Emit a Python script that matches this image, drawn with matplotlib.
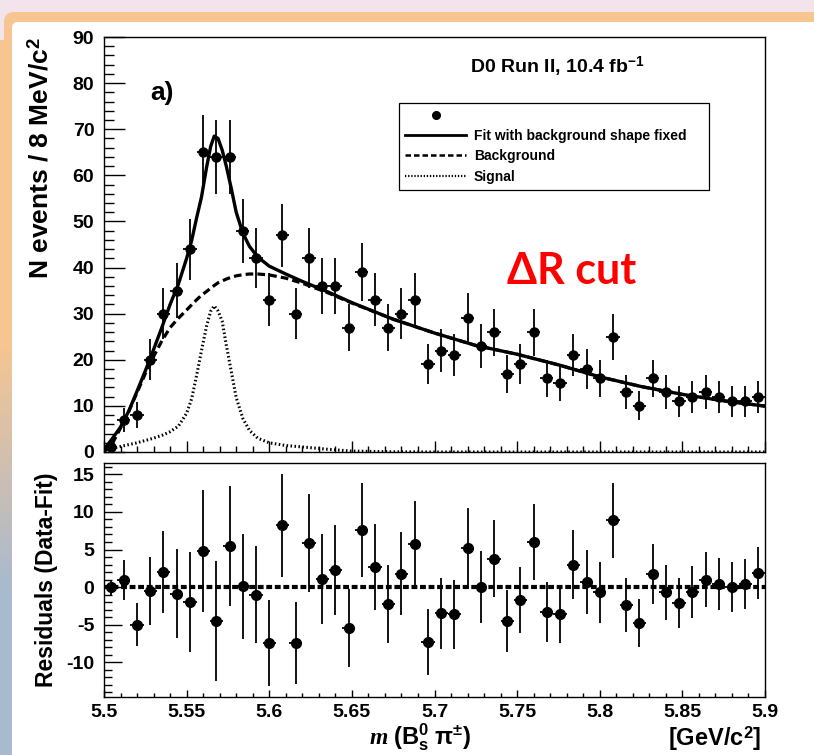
import numpy as np
import matplotlib
matplotlib.use("Agg")
import matplotlib.pyplot as plt
from matplotlib.lines import Line2D
from matplotlib.patches import Rectangle, FancyBboxPatch
from matplotlib.ticker import MultipleLocator, FuncFormatter

plt.rcParams.update({
    "font.family": ["Liberation Sans", "DejaVu Sans"],
    "font.weight": "bold",
    "axes.unicode_minus": False,
    "mathtext.fontset": "custom",
    "mathtext.rm": "Liberation Sans:bold",
    "mathtext.it": "Liberation Serif:italic:bold",
    "mathtext.bf": "Liberation Sans:bold",
    "mathtext.sf": "Liberation Sans:bold",
})

# ---------------- data ----------------
bin_centers = [5.504, 5.512, 5.520, 5.528, 5.536, 5.544, 5.552, 5.560, 5.568, 5.576,
               5.584, 5.592, 5.600, 5.608, 5.616, 5.624, 5.632, 5.640, 5.648, 5.656,
               5.664, 5.672, 5.680, 5.688, 5.696, 5.704, 5.712, 5.720, 5.728, 5.736,
               5.744, 5.752, 5.760, 5.768, 5.776, 5.784, 5.792, 5.800, 5.808, 5.816,
               5.824, 5.832, 5.840, 5.848, 5.856, 5.864, 5.872, 5.880, 5.888, 5.896]
counts = [1, 7, 8, 20, 30, 35, 44, 65, 64, 64,
          48, 42, 33, 47, 30, 42, 36, 36, 27, 39,
          33, 27, 30, 33, 19, 22, 21, 29, 23, 26,
          17, 19, 26, 16, 15, 21, 18, 16, 25, 13,
          10, 16, 13, 11, 12, 13, 12, 11, 11, 12]
residuals = [0.0, 1.0, -5.0, -0.5, 2.0, -0.9, -2.0, 4.8, -4.5, 5.5,
             0.1, -1.0, -7.4, 8.2, -7.4, 5.9, 1.1, 2.3, -5.4, 7.6,
             2.7, -2.2, 1.8, 5.7, -7.3, -3.5, -3.6, 5.2, 0.0, 3.8,
             -4.5, -1.7, 6.0, -3.3, -3.6, 3.0, 0.7, -0.7, 8.9, -2.4,
             -4.8, 1.8, -0.7, -2.1, -0.6, 1.0, 0.4, 0.0, 0.4, 1.9]
bin_half_width = 0.004

curve_mass = [5.500, 5.505, 5.510, 5.515, 5.520, 5.525, 5.530, 5.535, 5.540, 5.545,
              5.550, 5.553, 5.556, 5.559, 5.562, 5.5645, 5.5667, 5.569, 5.5715, 5.574,
              5.577, 5.580, 5.584, 5.588, 5.593, 5.600, 5.610, 5.620, 5.635, 5.650,
              5.675, 5.700, 5.725, 5.750, 5.775, 5.800, 5.825, 5.850, 5.875, 5.900]
fit_curve = [0.5, 2.9, 5.4, 8.9, 13.2, 17.6, 22.2, 27.0, 32.0, 36.4,
             42.0, 45.8, 50.7, 55.3, 61.6, 66.2, 68.5, 68.0, 65.5, 62.0,
             57.2, 52.0, 47.5, 44.6, 42.3, 40.3, 38.6, 37.0, 34.8, 32.4,
             28.8, 25.8, 23.1, 21.2, 18.9, 16.3, 14.2, 12.5, 11.1, 9.95]
bkg_curve = [0.0, 1.8, 5.2, 8.8, 12.9, 17.0, 20.7, 24.1, 27.0, 29.0,
             30.8, 31.9, 33.0, 34.0, 34.8, 35.5, 36.1, 36.7, 37.1, 37.5,
             37.9, 38.2, 38.45, 38.6, 38.6, 38.4, 37.7, 36.6, 34.6, 32.3,
             28.8, 25.8, 23.1, 21.2, 18.9, 16.3, 14.2, 12.5, 11.1, 9.95]
sig_curve = [0.5, 0.8, 1.2, 1.6, 2.0, 2.5, 3.0, 3.6, 4.4, 5.6,
             8.4, 11.5, 16.5, 22.0, 27.2, 30.5, 31.7, 30.6, 28.4, 23.2,
             17.5, 11.8, 7.3, 4.7, 3.0, 2.0, 1.4, 1.1, 0.6, 0.2,
             0.05, 0.0, 0.0, 0.0, 0.0, 0.0, 0.0, 0.0, 0.0, 0.0]

legend_labels = ["Fit with background shape fixed", "Background", "Signal"]

# ---------------- figure ----------------
W, H = 814, 755
fig = plt.figure(figsize=(W / 100, H / 100), dpi=100)
fig.patch.set_facecolor("white")

# slide-like background
bg = fig.add_axes([0, 0, 1, 1], zorder=-10)
bg.set_xlim(0, W)
bg.set_ylim(H, 0)
bg.axis("off")
bg.add_patch(Rectangle((0, 0), W, H, fc="#f3e4eb", ec="none"))
bg.add_patch(FancyBboxPatch((4, 12), W + 40, H + 40, boxstyle="round,pad=0,rounding_size=10",
                            fc="#f6c592", ec="none"))
ny = 300
ramp = np.clip((np.linspace(12, H, ny) - 330) / 250.0, 0, 1)[:, None]
c_top = np.array([0.965, 0.773, 0.573])
c_bot = np.array([0.66, 0.73, 0.81])
strip = (c_top[None, None, :] * (1 - ramp[:, :, None]) + c_bot[None, None, :] * ramp[:, :, None])
strip = np.repeat(strip, 2, axis=1)
bg.imshow(strip, extent=(0, 12, H, 40), aspect="auto", interpolation="bilinear", zorder=1)
bg.add_patch(FancyBboxPatch((12, 22), W + 40, H + 40, boxstyle="round,pad=0,rounding_size=6",
                            fc="white", ec="none", zorder=2))
bg.set_xlim(0, W)
bg.set_ylim(H, 0)


def fax(l, t, r, b):
    return [l / W, 1 - b / H, (r - l) / W, (b - t) / H]


ax1 = fig.add_axes(fax(104, 37, 765, 452))
ax2 = fig.add_axes(fax(104, 463, 765, 697))

gfmt = FuncFormatter(lambda v, p: f"{v:g}")

# ---------- top panel ----------
ax1.plot(curve_mass, sig_curve, color="black", lw=2.2, linestyle=(0, (0.5, 0.8)),
         dash_capstyle="butt", zorder=2)
ax1.plot(curve_mass, bkg_curve, color="black", lw=2.3, linestyle=(0, (2.4, 1.3)), zorder=2)
ax1.plot(curve_mass, fit_curve, color="black", lw=2.4, solid_joinstyle="round", zorder=2)
ax1.errorbar(bin_centers, counts, yerr=np.sqrt(counts), xerr=bin_half_width, fmt="o",
             color="black", ms=6.5, elinewidth=1.3, capsize=0, zorder=3)

ax1.set_xlim(5.5, 5.9)
ax1.set_ylim(0, 90)
ax1.xaxis.set_major_locator(MultipleLocator(0.05))
ax1.xaxis.set_minor_locator(MultipleLocator(0.01))
ax1.yaxis.set_major_locator(MultipleLocator(10))
ax1.yaxis.set_minor_locator(MultipleLocator(2))
ax1.yaxis.set_major_formatter(gfmt)
ax1.tick_params(axis="both", which="both", direction="in", top=False, right=False,
                labelbottom=False, colors="black")
ax1.tick_params(axis="y", which="major", length=15, width=1, labelsize=14, pad=7)
ax1.tick_params(axis="y", which="minor", length=7, width=1)
ax1.tick_params(axis="x", which="major", length=8, width=1)
ax1.tick_params(axis="x", which="minor", length=4, width=1)
ax1.set_ylabel("N events / 8 MeV/c$^{2}$", fontsize=19, fontweight="bold", loc="top")
ax1.yaxis.set_label_coords(-0.077, 1.0)

ax1.text(0.088, 0.866, "a)", transform=ax1.transAxes, fontsize=19, fontweight="bold",
         ha="center", va="center")
ax1.text(0.686, 0.928, "D0 Run II, 10.4 fb$^{-1}$", transform=ax1.transAxes, fontsize=14,
         fontweight="bold", ha="center", va="center")
ax1.text(0.707, 0.436, "ΔR cut", transform=ax1.transAxes, fontsize=31, fontweight="bold",
         color="#ff0000", ha="center", va="center", family=["Lato", "DejaVu Sans"])

handles = [Line2D([], [], marker="o", color="black", ls="none", ms=5.5),
           Line2D([], [], color="black", lw=2.0),
           Line2D([], [], color="black", lw=1.8, linestyle=(0, (2.2, 1.2))),
           Line2D([], [], color="black", lw=1.6, linestyle=(0, (0.6, 0.8)))]
leg = ax1.legend(handles, [" "] + legend_labels, loc="upper left",
                 bbox_to_anchor=(0.446, 0.842, 0.47, 0.0), mode="expand", borderaxespad=0,
                 handlelength=4.4, handletextpad=0.55, borderpad=0.45,
                 labelspacing=0.45, fancybox=False, framealpha=1, edgecolor="black",
                 prop={"weight": "bold", "size": 10})
leg.get_frame().set_linewidth(0.9)

# ---------- residual panel ----------
ax2.axhline(0, color="black", lw=3.0, linestyle=(0, (1.4, 0.65)), zorder=2)
ax2.errorbar(bin_centers, residuals, yerr=np.sqrt(counts), xerr=bin_half_width, fmt="o",
             color="black", ms=7, elinewidth=1.3, capsize=0, zorder=3)
ax2.set_xlim(5.5, 5.9)
ax2.set_ylim(-14.6, 16.5)
ax2.xaxis.set_major_locator(MultipleLocator(0.05))
ax2.xaxis.set_minor_locator(MultipleLocator(0.01))
ax2.yaxis.set_major_locator(MultipleLocator(5))
ax2.yaxis.set_minor_locator(MultipleLocator(1))
ax2.xaxis.set_major_formatter(gfmt)
ax2.yaxis.set_major_formatter(gfmt)
ax2.tick_params(axis="both", which="both", direction="in", top=False, right=False,
                colors="black")
ax2.tick_params(axis="y", which="major", length=13, width=1, labelsize=14, pad=7)
ax2.tick_params(axis="y", which="minor", length=6, width=1)
ax2.tick_params(axis="x", which="major", length=5, width=1, labelsize=14, pad=5)
ax2.tick_params(axis="x", which="minor", length=3, width=1)
ax2.set_ylabel("Residuals (Data-Fit)", fontsize=16.5, fontweight="bold")
ax2.yaxis.set_label_coords(-0.07, 0.5)
ax2.set_xlabel("[GeV/c$^{2}$]", fontsize=17, fontweight="bold", loc="right")
ax2.xaxis.set_label_coords(0.995, -0.115)
ax2.text(0.478, -0.17, r"$\mathit{m}\ \mathrm{(B^{0}_{s}\ \pi^{\pm})}$", transform=ax2.transAxes,
         fontsize=17, ha="center", va="center")

for ax in (ax1, ax2):
    for s in ax.spines.values():
        s.set_linewidth(1.0)
        s.set_color("black")

fig.savefig("out.png", dpi=100)
